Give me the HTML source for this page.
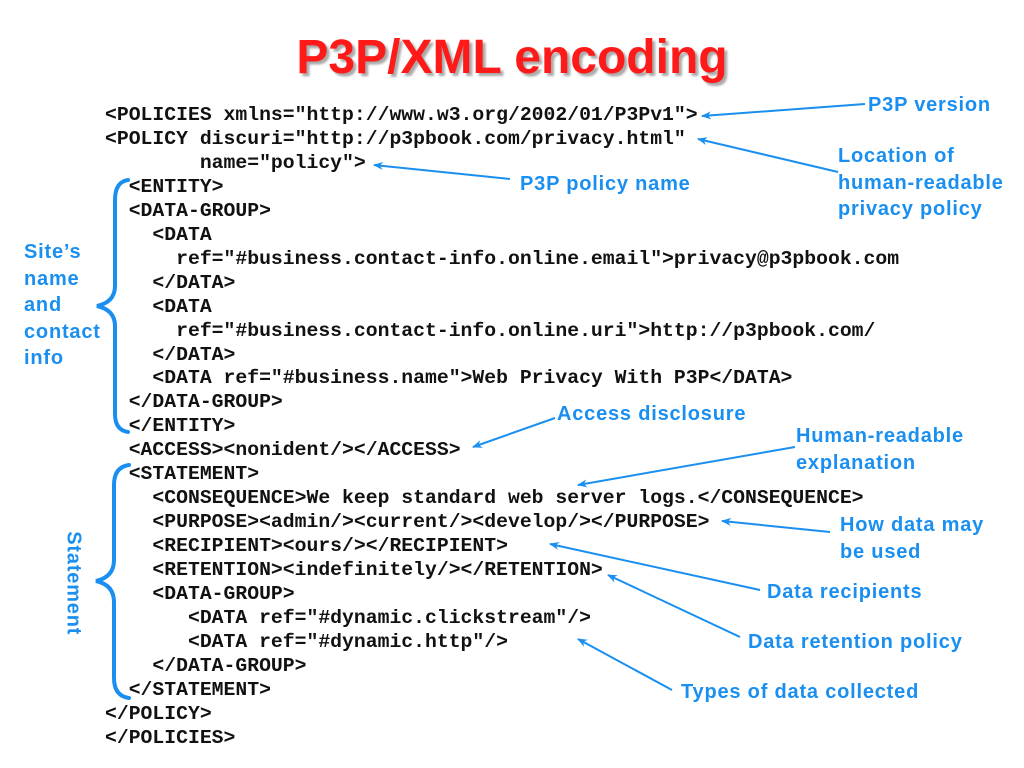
<!DOCTYPE html>
<html><head><style>
body{margin:0;width:1024px;height:768px;background:#fff;position:relative;overflow:hidden}
.t{position:absolute;left:0;width:1024px;top:30px;text-align:center;font:bold 48px "Liberation Sans",sans-serif;color:#ff1a1a;text-shadow:3px 3px 2px #aaa}
.c{position:absolute;font:bold 19.75px "Liberation Mono",monospace;color:#111;white-space:pre;line-height:23.95px}
.b{position:absolute;font:bold 20px "Liberation Sans",sans-serif;color:#1a8ff0;line-height:26.5px;white-space:pre;letter-spacing:0.8px}
svg{position:absolute;left:0;top:0}
</style></head><body>
<div class="t">P3P/XML encoding</div>
<div class="c" style="left:105px;top:104px">&lt;POLICIES xmlns="http://www.w3.org/2002/01/P3Pv1"&gt;
&lt;POLICY discuri="http://p3pbook.com/privacy.html"
        name="policy"&gt;
  &lt;ENTITY&gt;
  &lt;DATA-GROUP&gt;
    &lt;DATA
      ref="#business.contact-info.online.email"&gt;privacy@p3pbook.com
    &lt;/DATA&gt;
    &lt;DATA
      ref="#business.contact-info.online.uri"&gt;http://p3pbook.com/
    &lt;/DATA&gt;
    &lt;DATA ref="#business.name"&gt;Web Privacy With P3P&lt;/DATA&gt;
  &lt;/DATA-GROUP&gt;
  &lt;/ENTITY&gt;
  &lt;ACCESS&gt;&lt;nonident/&gt;&lt;/ACCESS&gt;
  &lt;STATEMENT&gt;
    &lt;CONSEQUENCE&gt;We keep standard web server logs.&lt;/CONSEQUENCE&gt;
    &lt;PURPOSE&gt;&lt;admin/&gt;&lt;current/&gt;&lt;develop/&gt;&lt;/PURPOSE&gt;
    &lt;RECIPIENT&gt;&lt;ours/&gt;&lt;/RECIPIENT&gt;
    &lt;RETENTION&gt;&lt;indefinitely/&gt;&lt;/RETENTION&gt;
    &lt;DATA-GROUP&gt;
       &lt;DATA ref="#dynamic.clickstream"/&gt;
       &lt;DATA ref="#dynamic.http"/&gt;
    &lt;/DATA-GROUP&gt;
  &lt;/STATEMENT&gt;
&lt;/POLICY&gt;
&lt;/POLICIES&gt;</div>
<div class="b" style="left:868px;top:92px">P3P version</div>
<div class="b" style="left:838px;top:143px">Location of
human-readable
privacy policy</div>
<div class="b" style="left:520px;top:171px">P3P policy name</div>
<div class="b" style="left:24px;top:239px">Site’s
name
and
contact
info</div>
<div class="b" style="left:557px;top:401px">Access disclosure</div>
<div class="b" style="left:796px;top:423px">Human-readable
explanation</div>
<div class="b" style="left:840px;top:512px">How data may
be used</div>
<div class="b" style="left:767px;top:579px">Data recipients</div>
<div class="b" style="left:748px;top:629px">Data retention policy</div>
<div class="b" style="left:681px;top:679px">Types of data collected</div>
<div class="b" style="left:58px;top:583px;transform:rotate(90deg);transform-origin:center;width:120px;text-align:center;margin-left:-45px;margin-top:-13px">Statement</div>
<svg width="1024" height="768">
<defs><marker id="a" markerWidth="10" markerHeight="8" refX="9" refY="4" orient="auto" markerUnits="userSpaceOnUse"><path d="M0,0 L10,4 L0,8 L3,4z" fill="#1a8ff0"/></marker></defs>
<g stroke="#1a8ff0" stroke-width="2" fill="none" marker-end="url(#a)">
<line x1="865" y1="104" x2="702" y2="116"/>
<line x1="838" y1="172" x2="698" y2="139"/>
<line x1="510" y1="179" x2="374" y2="165"/>
<line x1="555" y1="418" x2="473" y2="447"/>
<line x1="795" y1="447" x2="578" y2="485"/>
<line x1="830" y1="532" x2="722" y2="521"/>
<line x1="760" y1="590" x2="550" y2="544"/>
<line x1="740" y1="637" x2="608" y2="575"/>
<line x1="672" y1="690" x2="578" y2="639"/>
</g>
<g stroke="#1a8ff0" stroke-width="4" fill="none" stroke-linecap="round">
<path d="M128,180 Q115,182 115,200 L115,286 Q115,302 97,306 Q115,310 115,326 L115,414 Q115,430 128,432"/>
<path d="M129,465 Q114,467 114,485 L114,560 Q114,577 96,581 Q114,585 114,602 L114,678 Q114,696 129,698"/>
</g>
</svg>
</body></html>
